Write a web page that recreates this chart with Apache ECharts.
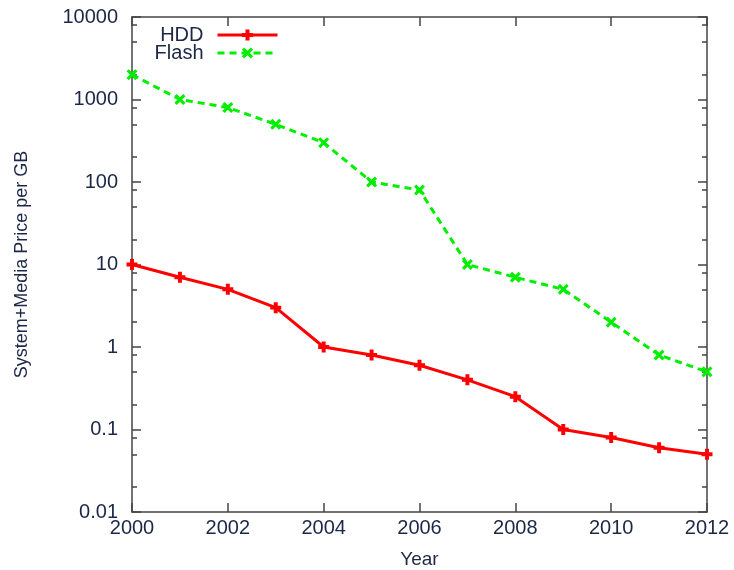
<!DOCTYPE html>
<html>
<head>
<meta charset="utf-8">
<script src="https://cdn.jsdelivr.net/npm/echarts@6/dist/echarts.min.js"></script>
<style>html,body{margin:0;padding:0;background:#fff}#c{width:734px;height:570px}</style>
</head>
<body>
<div id="c"></div>
<script>
var years = [2000,2001,2002,2003,2004,2005,2006,2007,2008,2009,2010,2011,2012];
var hdd = [10,7,5,3,1,0.8,0.6,0.4,0.25,0.1,0.08,0.06,0.05];
var flash = [2000,1000,800,500,300,100,80,10,7,5,2,0.8,0.5];
var yMajor = [0.01,0.1,1,10,100,1000,10000];
var yMinor = [0.02,0.05,0.08,0.2,0.5,0.8,2,5,8,20,50,80,200,500,800,2000,5000,8000];

var txt = '#1c2748';
var axc = '#444';
var font = 'Liberation Sans';
var plus = 'path://M-1.8,-5 L1.8,-5 L1.8,-1.8 L5,-1.8 L5,1.8 L1.8,1.8 L1.8,5 L-1.8,5 L-1.8,1.8 L-5,1.8 L-5,-1.8 L-1.8,-1.8Z';
var cross = 'path://M-5,-3 L-3,-5 L0,-2 L3,-5 L5,-3 L2,0 L5,3 L3,5 L0,2 L-3,5 L-5,3 L-2,0Z';

function pairs(v){ return years.map(function(y,i){ return [y, v[i]]; }); }

var chart = echarts.init(document.getElementById('c'), null, {renderer:'canvas'});
var yBase = {type:'log', logBase:10, min:0.01, max:10000, gridIndex:0, splitLine:{show:false}, minorTick:{show:false}};
function leg(name, top){
  return {data:[name], orient:'vertical', right:455, top:top, padding:0, align:'right', itemWidth:60, itemHeight:14,
    lineStyle:{width:3}, textStyle:{fontSize:20, color:txt, fontFamily:font, padding:[0,9,0,0]}};
}
chart.setOption({
  animation:false,
  backgroundColor:'#fff',
  textStyle:{fontFamily:font},
  grid:{left:132, right:27, top:17, bottom:58, outerBoundsMode:'none', containLabel:false},
  legend:[leg('HDD', 25), leg('Flash', 43)],
  xAxis:[
    {type:'value', min:2000, max:2012, interval:2, position:'bottom',
     name:'Year', nameLocation:'middle', nameGap:38,
     nameTextStyle:{fontSize:19, color:txt, fontFamily:font},
     axisLine:{show:true, lineStyle:{color:axc, width:1.5}},
     axisTick:{show:true, inside:true, length:9, lineStyle:{color:axc, width:1.5}},
     axisLabel:{fontSize:20, color:txt, margin:6, fontFamily:font, formatter:function(v){return String(v);}},
     splitLine:{show:false}},
    {type:'value', min:2000, max:2012, interval:2, position:'top',
     axisLine:{show:true, lineStyle:{color:axc, width:1.5}},
     axisTick:{show:true, inside:true, length:9, lineStyle:{color:axc, width:1.5}},
     axisLabel:{show:false}, splitLine:{show:false}}
  ],
  yAxis:[
    Object.assign({}, yBase, {position:'left',
     name:'System+Media Price per GB', nameLocation:'middle', nameGap:101,
     nameTextStyle:{fontSize:18, color:txt, fontFamily:font},
     axisLine:{show:true, lineStyle:{color:axc, width:1.5}},
     axisTick:{show:true, inside:true, length:9, customValues:yMajor, lineStyle:{color:axc, width:1.5}},
     axisLabel:{fontSize:20, color:txt, margin:14, fontFamily:font, customValues:yMajor,
       formatter:function(v){return String(v);}}}),
    Object.assign({}, yBase, {position:'right',
     axisLine:{show:true, lineStyle:{color:axc, width:1.5}},
     axisTick:{show:true, inside:true, length:9, customValues:yMajor, lineStyle:{color:axc, width:1.5}},
     axisLabel:{show:false}}),
    Object.assign({}, yBase, {position:'left',
     axisLine:{show:false},
     axisTick:{show:true, inside:true, length:5, customValues:yMinor, lineStyle:{color:axc, width:1.5}},
     axisLabel:{show:false}}),
    Object.assign({}, yBase, {position:'right',
     axisLine:{show:false},
     axisTick:{show:true, inside:true, length:5, customValues:yMinor, lineStyle:{color:axc, width:1.5}},
     axisLabel:{show:false}})
  ],
  series:[
    {name:'HDD', type:'line', xAxisIndex:0, yAxisIndex:0, data:pairs(hdd),
     symbol:plus, symbolSize:11, showAllSymbol:true,
     lineStyle:{color:'#ff0000', width:3}, itemStyle:{color:'#ff0000'}, z:3},
    {name:'Flash', type:'line', xAxisIndex:0, yAxisIndex:0, data:pairs(flash),
     symbol:cross, symbolSize:11, showAllSymbol:true,
     lineStyle:{color:'#00ee00', width:3, type:[7,5]}, itemStyle:{color:'#00ee00'}, z:3}
  ]
});
</script>
</body>
</html>
